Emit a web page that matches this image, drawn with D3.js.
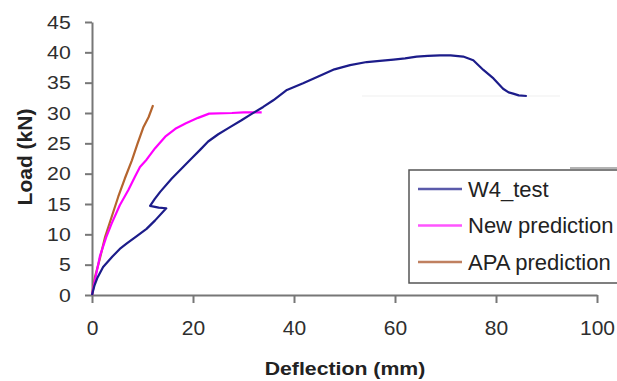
<!DOCTYPE html>
<html>
<head>
<meta charset="utf-8">
<script src="https://cdn.jsdelivr.net/npm/d3@7"></script>
<style>
  body { margin: 0; background: #fff; }
  svg { display: block; font-family: "Liberation Sans", Arial, sans-serif; }
</style>
</head>
<body>
<svg id="chart" width="617" height="381"></svg>
<script>
// W4_test measured curve
var w4Defl = [0, 0.5, 1.1, 2.2, 4.0, 5.5, 6.9, 9.0, 10.8, 12.5, 14.7, 13.2, 11.5, 12.4, 13.5, 15.8, 17.8, 19.7, 21.5, 23.0, 25.0, 27.0, 29.6, 31.3, 33.9, 35.9, 38.6, 41.8, 44.8, 48.0, 51.1, 54.4, 57.0, 59.7, 62.0, 64.3, 66.5, 68.9, 71.0, 73.5, 75.5, 77.5, 79.5, 81.4, 82.5, 83.4, 84.5, 86.1]
var w4Load = [0, 1.6, 2.9, 4.6, 6.3, 7.6, 8.5, 9.8, 10.9, 12.3, 14.3, 14.4, 14.7, 15.8, 17.0, 19.2, 20.9, 22.5, 24.0, 25.3, 26.5, 27.5, 28.8, 29.7, 31.0, 32.1, 33.8, 34.9, 36.0, 37.2, 37.9, 38.4, 38.6, 38.8, 39.0, 39.3, 39.4, 39.5, 39.5, 39.3, 38.7, 37.1, 35.7, 34.0, 33.4, 33.2, 32.9, 32.8]

// New prediction
var newDefl = [0, 0.6, 1.6, 2.8, 3.9, 5.5, 7.2, 8.5, 9.5, 10.8, 12.5, 14.5, 16.5, 18.6, 21.0, 23.2, 27.7, 30.0, 33.6]
var newLoad = [0, 2.5, 6.5, 9.5, 11.8, 14.8, 17.3, 19.5, 21.1, 22.3, 24.2, 26.1, 27.4, 28.3, 29.2, 29.9, 30.0, 30.1, 30.1]

// APA prediction
var apaDefl = [0, 0.6, 1.5, 2.6, 3.9, 5.2, 6.5, 7.9, 9.0, 10.2, 11.2, 12.1]
var apaLoad = [0, 3.0, 5.8, 9.6, 12.9, 16.2, 19.2, 22.2, 24.9, 27.7, 29.3, 31.3]

var xTicks = [0, 20, 40, 60, 80, 100]
var yTicks = [0, 5, 10, 15, 20, 25, 30, 35, 40, 45]

var seriesNames = ["W4_test", "New prediction", "APA prediction"]
var seriesColors = ["#1c1c8a", "#ff00ff", "#b5652e"]
var legendColors = ["#5a5aaa", "#ff55ff", "#c08060"]

var svg = d3.select("#chart")

var x = d3.scaleLinear().domain([0, 100]).range([92, 597])
var y = d3.scaleLinear().domain([0, 45]).range([295, 22])

//faint leftover lines from the original picture
svg.append("line")
    .attr("x1", 362).attr("x2", 560).attr("y1", 96).attr("y2", 96)
    .attr("stroke", "#f4f4f4").attr("stroke-width", 1.5)
svg.append("line")
    .attr("x1", 570).attr("x2", 617).attr("y1", 168).attr("y2", 168)
    .attr("stroke", "#9a9a9a").attr("stroke-width", 1.5)

//Axes
var xAxis = svg.append("g")
    .attr("transform", "translate(0," + y(0) + ")")
    .call(d3.axisBottom(x).tickValues(xTicks).tickSize(8).tickPadding(17).tickSizeOuter(0))
var yAxis = svg.append("g")
    .attr("transform", "translate(" + x(0) + ",0)")
    .call(d3.axisLeft(y).tickValues(yTicks).tickSize(7).tickPadding(12).tickSizeOuter(0))

;[xAxis, yAxis].forEach(a => {
    a.select(".domain").attr("stroke", "#777").attr("stroke-width", 2)
    a.selectAll(".tick line").attr("stroke", "#777").attr("stroke-width", 2)
    a.selectAll(".tick text")
        .attr("fill", "#2e2e2e")
        .style("font-family", "'Liberation Sans', Arial, sans-serif")
})
xAxis.selectAll(".tick text").style("font-size", "21px")
yAxis.selectAll(".tick text").style("font-size", "19px")
    .attr("transform", "scale(1.12,1)")

//Curves
var line = d3.line()
    .x(d => x(d[0]))
    .y(d => y(d[1]))

var curves = [
    d3.zip(w4Defl, w4Load),
    d3.zip(newDefl, newLoad),
    d3.zip(apaDefl, apaLoad)
]

// draw APA and New under the test curve where they overlap at the start
;[2, 1, 0].forEach(i => {
    svg.append("path")
        .datum(curves[i])
        .attr("d", line)
        .attr("fill", "none")
        .attr("stroke", seriesColors[i])
        .attr("stroke-width", 2.2)
        .attr("stroke-linejoin", "round")
})

//Axis titles
svg.append("text")
    .attr("x", 345)
    .attr("y", 375)
    .attr("text-anchor", "middle")
    .style("font-size", "19px")
    .style("font-weight", "bold")
    .attr("fill", "#222")
    .attr("transform", "translate(345,0) scale(1.12,1) translate(-345,0)")
    .text("Deflection (mm)")

svg.append("text")
    .attr("transform", "translate(32,157) rotate(-90)")
    .attr("text-anchor", "middle")
    .style("font-size", "21px")
    .style("font-weight", "bold")
    .attr("fill", "#222")
    .text("Load (kN)")

//Legend
var legend = svg.append("g")
legend.append("rect")
    .attr("x", 409).attr("y", 170)
    .attr("width", 230).attr("height", 113)
    .attr("fill", "#fff")
    .attr("stroke", "#555")
    .attr("stroke-width", 1.5)

seriesNames.forEach((name, i) => {
    var ly = 189 + i * 36.5
    legend.append("line")
        .attr("x1", 418).attr("x2", 462)
        .attr("y1", ly).attr("y2", ly)
        .attr("stroke", legendColors[i])
        .attr("stroke-width", 2.5)
    legend.append("text")
        .attr("x", 468)
        .attr("y", ly + 7.5)
        .style("font-size", "22px")
        .attr("fill", "#222")
        .text(name)
})
</script>
</body>
</html>
